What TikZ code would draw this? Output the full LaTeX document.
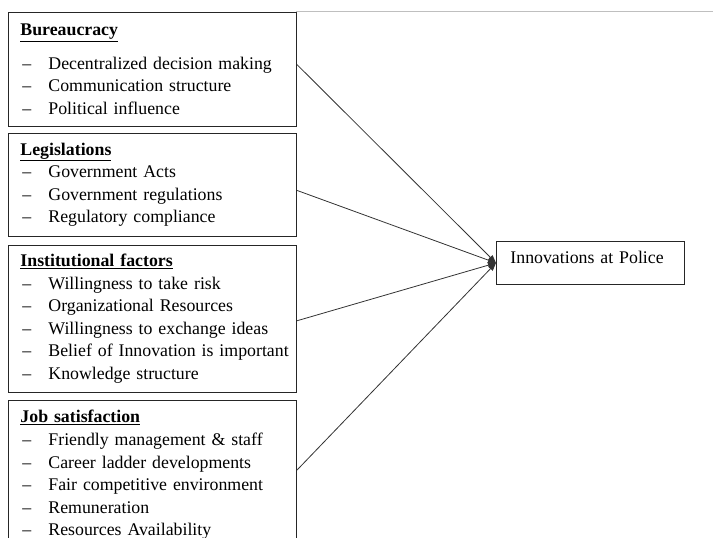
\documentclass[tikz,border=0pt]{standalone}
\usepackage{fontspec}
\setmainfont{Liberation Serif}
\usetikzlibrary{arrows.meta, positioning}
\newcommand{\hd}[1]{\underline{\textbf{#1}}}
\newcommand{\itm}[1]{\hspace*{2pt}\makebox[26pt][l]{--}\mbox{#1}}

\begin{document}
\begin{tikzpicture}[x=1pt, y=1pt, >=Stealth,
    font=\fontsize{17.8}{22.6}\selectfont]
  \tikzset{
    box/.style={draw=black!85, line width=0.9pt, fill=white,
      text width=264pt, inner xsep=12pt, inner ysep=0pt,
      align=left},
    goal/.style={draw=black!85, line width=0.9pt, fill=white,
      text width=160pt, inner xsep=14pt, inner ysep=0pt,
      text height=22.5pt, text depth=20.5pt, align=left},
    arr/.style={-{Triangle[length=8pt, width=6pt]}, black!80,
      line width=0.8pt},
  }
  \useasboundingbox (0,0) rectangle (713,538);
  \clip (0,0) rectangle (713,538);
  % thin page line at the top
  \draw[black!25, line width=0.8pt] (296,527) -- (713,527);
  % Factors
  \node[box, minimum height=114pt, anchor=north west] (bur) at (8,526)
    {\hd{Bureaucracy}\\[11pt]
     \itm{Decentralized decision making}\\
     \itm{Communication structure}\\
     \itm{Political influence}};
  \node[box, minimum height=103pt, below=6pt of bur] (leg)
    {\hd{Legislations}\\
     \itm{Government Acts}\\
     \itm{Government regulations}\\
     \itm{Regulatory compliance}};
  \node[box, minimum height=147pt, below=8pt of leg] (inst)
    {\hd{Institutional factors}\\
     \itm{Willingness to take risk}\\
     \itm{Organizational Resources}\\
     \itm{Willingness to exchange ideas}\\
     \itm{Belief of Innovation is important}\\
     \itm{Knowledge structure}};
  \node[box, minimum height=150pt, below=7pt of inst] (job)
    {\hd{Job satisfaction}\\
     \itm{Friendly management \& staff}\\
     \itm{Career ladder developments}\\
     \itm{Fair competitive environment}\\
     \itm{Remuneration}\\
     \itm{Resources Availability}};
  % Outcome
  \node[goal, anchor=north west] (pol) at (496,297)
    {Innovations at Police};
  % Arrows
  \draw[arr] ([yshift=-52.5pt]bur.north east)  -- (pol.west);
  \draw[arr] ([yshift=-57.5pt]leg.north east)  -- (pol.west);
  \draw[arr] ([yshift=-76pt]inst.north east)   -- (pol.west);
  \draw[arr] ([yshift=-70.5pt]job.north east)  -- (pol.west);
\end{tikzpicture}
\end{document}
